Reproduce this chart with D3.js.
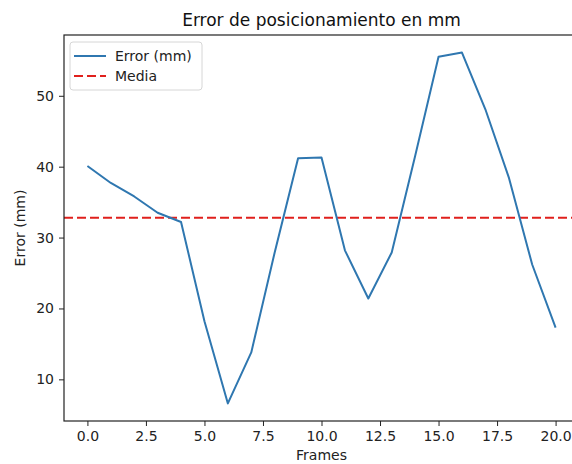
<!DOCTYPE html>
<html>
<head>
<meta charset="utf-8">
<script src="https://cdn.jsdelivr.net/npm/d3@7"></script>
<style>
  body { margin: 0; background: #fff; }
  svg { display: block; font-family: "DejaVu Sans", sans-serif; }
  .tick text { fill: #222; }
</style>
</head>
<body>
<svg width="572" height="464"></svg>
<script>
// Error por frame (mm)
var frames = [0, 1, 2, 3, 4, 5, 6, 7, 8, 9, 10, 11, 12, 13, 14, 15, 16, 17, 18, 19, 20];
var errores = [40.1, 37.7, 35.8, 33.5, 32.2, 18.2, 6.6, 13.8, 27.9, 41.2, 41.3, 28.2, 21.4, 27.9, 41.5, 55.5, 56.1, 48.1, 38.5, 26.2, 17.3];
var xTicks = [0, 2.5, 5, 7.5, 10, 12.5, 15, 17.5, 20];
var yTicks = [10, 20, 30, 40, 50];
var titulo = "Error de posicionamiento en mm";
var leyenda = ["Error (mm)", "Media"];

var data = frames.map(function(f, i) { return {x: f, y: errores[i]}; });
var media = d3.mean(errores);

var svg = d3.select("svg");
// caja de los ejes (no usar "top": es window.top)
var box = {left: 64, right: 579, top: 35, bottom: 421};

// margenes del 5% como matplotlib
function pad(ext) {
  var r = ext[1] - ext[0];
  return [ext[0] - r * 0.05, ext[1] + r * 0.05];
}

var x = d3.scaleLinear().domain(pad(d3.extent(frames))).range([box.left, box.right]);
var y = d3.scaleLinear().domain(pad(d3.extent(errores))).range([box.bottom, box.top]);

var plot = svg.append("g");

plot.append("line")
    .attr("x1", box.left).attr("x2", box.right)
    .attr("y1", y(media)).attr("y2", y(media))
    .style("stroke", "#e0201c")
    .style("stroke-width", 2)
    .style("stroke-dasharray", "9,4");

var line = d3.line()
    .x(function(d) { return x(d.x); })
    .y(function(d) { return y(d.y); });

plot.append("path")
    .datum(data)
    .attr("d", line)
    .style("fill", "none")
    .style("stroke", "#2f77b0")
    .style("stroke-width", 2)
    .style("stroke-linejoin", "round");

// ejes
var xAxis = svg.append("g")
    .attr("transform", "translate(0," + box.bottom + ")")
    .call(d3.axisBottom(x).tickValues(xTicks).tickFormat(d3.format(".1f")).tickSize(5).tickPadding(5));
var yAxis = svg.append("g")
    .attr("transform", "translate(" + box.left + ",0)")
    .call(d3.axisLeft(y).tickValues(yTicks).tickFormat(d3.format("d")).tickSize(5).tickPadding(5));

[xAxis, yAxis].forEach(function(a) {
  a.select(".domain").remove();
  a.selectAll("text").style("font-size", "14px").style("font-family", "DejaVu Sans");
  a.selectAll("line").style("stroke", "#222");
});

svg.append("rect")
    .attr("x", box.left).attr("y", box.top)
    .attr("width", box.right - box.left).attr("height", box.bottom - box.top)
    .style("fill", "none")
    .style("stroke", "#222")
    .style("stroke-width", 1.2);

svg.append("text")
    .attr("x", (box.left + box.right) / 2)
    .attr("y", 26)
    .attr("text-anchor", "middle")
    .style("font-size", "17px")
    .style("fill", "#111")
    .text(titulo);

svg.append("text")
    .attr("x", (box.left + box.right) / 2)
    .attr("y", 460)
    .attr("text-anchor", "middle")
    .style("font-size", "14px")
    .style("fill", "#222")
    .text("Frames");

svg.append("text")
    .attr("transform", "translate(25," + (box.top + box.bottom) / 2 + ") rotate(-90)")
    .attr("text-anchor", "middle")
    .style("font-size", "14px")
    .style("fill", "#222")
    .text("Error (mm)");

// leyenda
var lg = svg.append("g").attr("transform", "translate(70,42)");
lg.append("rect")
    .attr("width", 132).attr("height", 48)
    .attr("rx", 3)
    .style("fill", "#fff")
    .style("fill-opacity", 0.8)
    .style("stroke", "#d6d6d6");

var estilos = [
  {color: "#2f77b0", dash: null},
  {color: "#e0201c", dash: "9,4"}
];
leyenda.forEach(function(t, i) {
  var yy = 14 + i * 20;
  lg.append("line")
      .attr("x1", 4).attr("x2", 36)
      .attr("y1", yy).attr("y2", yy)
      .style("stroke", estilos[i].color)
      .style("stroke-width", 2)
      .style("stroke-dasharray", estilos[i].dash);
  lg.append("text")
      .attr("x", 45).attr("y", yy + 5)
      .style("font-size", "14px")
      .style("fill", "#222")
      .text(t);
});
</script>
</body>
</html>
